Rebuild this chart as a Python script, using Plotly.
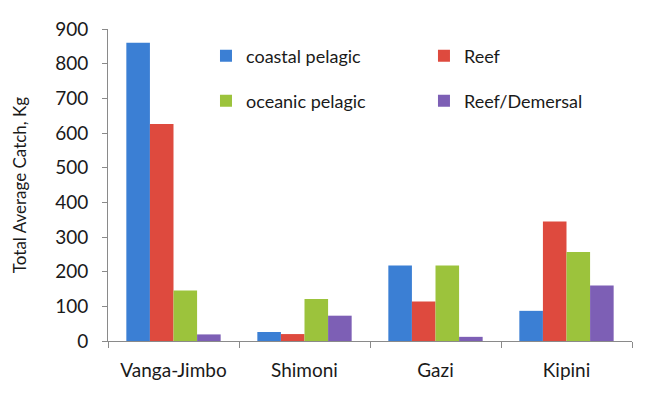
import plotly.graph_objects as go

# Landing sites and average catch by fish group (kg)
sites = ["Vanga-Jimbo", "Shimoni", "Gazi", "Kipini"]
coastal_pelagic = [860, 26, 218, 87]
reef = [626, 20, 114, 345]
oceanic_pelagic = [146, 121, 218, 257]
reef_demersal = [19, 73, 12, 160]

# name, values, colour, legend id, legend anchor (paper x, paper y)
series = [
    ("coastal pelagic", coastal_pelagic, "#3b7fd4", "legend", (0.187, 0.913)),
    ("Reef", reef, "#de4a3e", "legend2", (0.603, 0.913)),
    ("oceanic pelagic", oceanic_pelagic, "#9cc33c", "legend3", (0.187, 0.769)),
    ("Reef/Demersal", reef_demersal, "#7d5fb5", "legend4", (0.603, 0.769)),
]

FONT = "Lato, Calibri, Carlito, sans-serif"

fig = go.Figure()
legends = {}
for name, vals, color, leg, (lx, ly) in series:
    fig.add_trace(go.Bar(
        x=sites, y=vals, name=name, legend=leg, showlegend=True,
        marker=dict(color=color, line=dict(width=0)),
    ))
    legends[leg] = dict(
        x=lx, y=ly, xanchor="left", yanchor="middle",
        orientation="h",
        font=dict(family=FONT, size=18, color="#1a1a1a"),
        bgcolor="rgba(0,0,0,0)",
        itemclick=False, itemdoubleclick=False,
    )

fig.update_layout(
    width=649, height=402,
    margin=dict(l=108, r=17, t=29, b=61),
    paper_bgcolor="white", plot_bgcolor="white",
    showlegend=True,
    barmode="group", bargap=0.28, bargroupgap=0,
    font=dict(family=FONT, color="#1a1a1a"),
    **legends,
    xaxis=dict(
        showline=True, linecolor="#8a8a8a", linewidth=1,
        ticks="outside", tickson="boundaries", ticklen=6, tickcolor="#8a8a8a",
        tickfont=dict(family=FONT, size=19, color="#1a1a1a"),
        tickangle=0, ticklabelstandoff=12, automargin=False,
        showgrid=False,
    ),
    yaxis=dict(
        range=[0, 900], dtick=100,
        showline=True, linecolor="#8a8a8a", linewidth=1,
        ticks="outside", ticklen=5, tickcolor="#8a8a8a",
        tickfont=dict(family=FONT, size=19, color="#1a1a1a"),
        ticklabelstandoff=10, automargin=False,
        showgrid=False, zeroline=False,
        title=dict(text="Total Average Catch, Kg",
                   font=dict(family=FONT, size=17, color="#1a1a1a"),
                   standoff=24),
    ),
)

fig.write_html("out.html")
